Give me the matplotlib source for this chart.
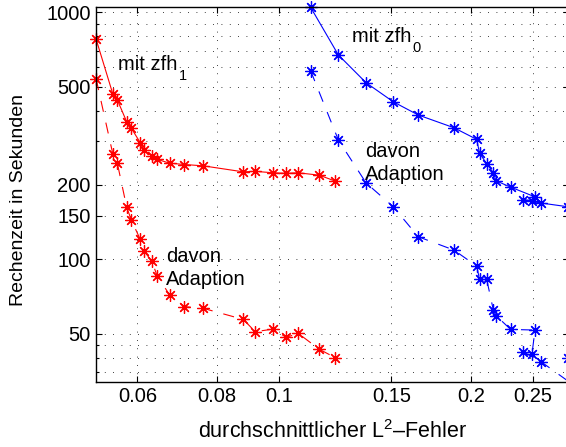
import numpy as np
import matplotlib.pyplot as plt
from matplotlib.ticker import FixedLocator, NullLocator, NullFormatter

plt.rcParams['font.family'] = ['Liberation Sans', 'DejaVu Sans']
plt.rcParams['mathtext.fontset'] = 'custom'
plt.rcParams['mathtext.rm'] = 'Liberation Sans'
plt.rcParams['mathtext.it'] = 'Liberation Sans:italic'

# Daten
red_err = [0.0517, 0.0549, 0.0558, 0.0577, 0.0587, 0.0606, 0.0614, 0.0632, 0.0644,
           0.0674, 0.0711, 0.0761, 0.0879, 0.0918, 0.0980, 0.1026, 0.1072, 0.1157, 0.1224]
red_total = [777, 467, 442, 361, 339, 297, 277, 262, 254,
             245, 242, 239, 226, 227, 224, 223, 224, 219, 207.5]
red_adapt = [536, 267, 245, 163, 144, 120.5, 108, 98.4, 85.8,
             71.7, 64.3, 63.3, 57.1, 50.9, 52.2, 48.3, 50.1, 43.2, 40.0]

blue_err = [0.1121, 0.1239, 0.1369, 0.1511, 0.1653, 0.1880, 0.2041, 0.2062, 0.2116,
            0.2168, 0.2188, 0.2307, 0.2519, 0.2492, 0.2415, 0.2574, 0.2966, 0.2837]
blue_total = [1048, 672, 519, 434, 384, 341, 306, 269, 244,
              224, 208, 196, 179, 173, 174, 169, 160.6, 162.9]
blue_adapt = [580, 304, 204, 163, 123.4, 109, 93.9, 83.0, 83.0,
              62.1, 59.2, 52.0, 51.7, 41.4, 42.2, 38.5, 29.6, 39.8]

xticks = [0.06, 0.08, 0.1, 0.15, 0.2, 0.25]
xticklabels = ['0.06', '0.08', '0.1', '0.15', '0.2', '0.25']
yticks = [50, 100, 150, 200, 500, 1000]
ygrid_minor = [35, 40, 45, 300, 400, 600, 700, 800, 900]

W, H = 566, 447
fig = plt.figure(figsize=(W / 100, H / 100), dpi=100)
# rechte Achsenkante liegt knapp ausserhalb des Bildes
ax = fig.add_axes([95.7 / W, 65.3 / H, (569 - 95.7) / W, 375 / H])

star = (8, 2, 0)
dash = (0, (10, 10))
style = dict(lw=0.8, marker=star, ms=8.8, mew=0.9, clip_on=False)
ax.plot(red_err, red_total, '-', color='red', **style)
ax.plot(red_err, red_adapt, linestyle=dash, color='red', **style)
ax.plot(blue_err, blue_total, '-', color='blue', **style)
ax.plot(blue_err, blue_adapt, linestyle=dash, color='blue', **style)

ax.set_xscale('log')
ax.set_yscale('log')
ax.set_xlim(0.05161, 0.2848)
ax.set_ylim(31.94, 1054)

ax.xaxis.set_major_locator(FixedLocator(xticks))
ax.set_xticklabels(xticklabels)
ax.xaxis.set_minor_locator(NullLocator())
ax.yaxis.set_major_locator(FixedLocator(yticks))
ax.set_yticklabels([str(v) for v in yticks])
ax.yaxis.set_minor_locator(FixedLocator(ygrid_minor))
ax.yaxis.set_minor_formatter(NullFormatter())

ax.tick_params(which='both', direction='in', top=True, right=True, labelsize=14.5,
               width=0.8, colors='black')
ax.tick_params(which='major', length=4)
ax.tick_params(which='minor', length=2.5)
for s in ax.spines.values():
    s.set_linewidth(1.0)

grid_style = dict(color='black', lw=0.6, linestyle=(0, (1, 9)))
ax.grid(True, which='major', axis='both', **grid_style)
ax.grid(True, which='minor', axis='y', **grid_style)
ax.set_axisbelow(True)

# Beschriftungen im Diagramm
labels = []
labels.append((ax.text(0.0560, 584, 'mit zfh', fontsize=14.5, va='baseline'), '1'))
labels.append((ax.text(0.1301, 760, 'mit zfh', fontsize=14.5, va='baseline'), '0'))
ax.text(0.0665, 97.8, 'davon', fontsize=14.5, va='baseline')
ax.text(0.0665, 78.7, 'Adaption', fontsize=14.5, va='baseline')
ax.text(0.1364, 260.4, 'davon', fontsize=14.5, va='baseline')
ax.text(0.1364, 209.6, 'Adaption', fontsize=14.5, va='baseline')

fig.canvas.draw()
for t, sub in labels:
    bb = t.get_window_extent()
    base = ax.transData.transform(t.get_position())[1]
    fig.text((bb.x1 + 1) / W, (base - 10) / H, sub, fontsize=10.5, va='baseline')

fig.text(333 / W, 1 - 432 / H, 'durchschnittlicher L$^2$–Fehler', fontsize=15.5,
         ha='center', va='center')
fig.text(19 / W, 1 - 200 / H, 'Rechenzeit in Sekunden', fontsize=14,
         ha='center', va='center', rotation=90)

fig.savefig('out.png', dpi=100)
